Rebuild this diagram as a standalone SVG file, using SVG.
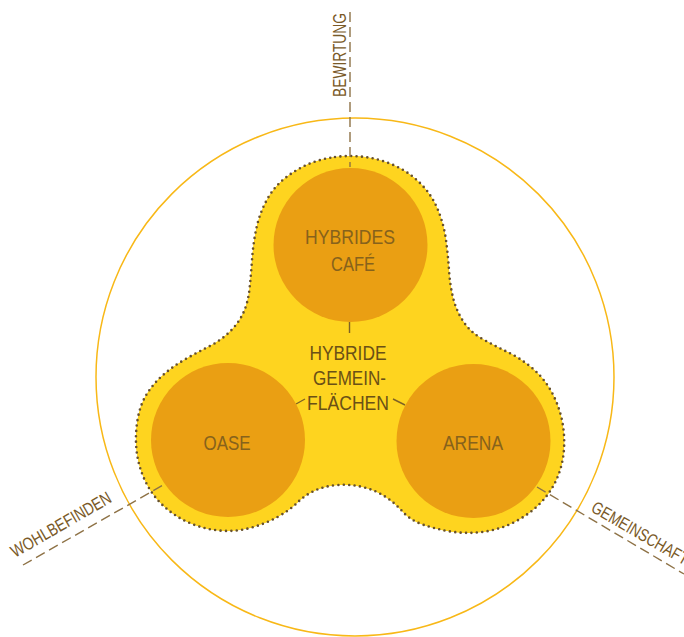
<svg xmlns="http://www.w3.org/2000/svg" width="684" height="637" viewBox="0 0 684 637">
  <style>
    .ring { fill: none; stroke: #F8B817; stroke-width: 1.5; }
    .blob { fill: #FED41F; }
    .blob-edge { fill: none; stroke: #66502E; stroke-width: 2.6; stroke-linecap: round; stroke-dasharray: 0 5.4; }
    .node { fill: #EA9F13; }
    .conn { fill: none; stroke: #8E7246; stroke-width: 1.4; stroke-dasharray: 10 5; }
    .stub { fill: none; stroke: #7E6226; stroke-width: 1.4; }
    .node-text { font-family: "Liberation Sans Narrow", "Liberation Sans", Arial, sans-serif; font-size: 21px; fill: #86621C; text-anchor: middle; }
    .center-text { font-family: "Liberation Sans Narrow", "Liberation Sans", Arial, sans-serif; font-size: 21px; fill: #6A5016; text-anchor: middle; }
    .outer-text { font-family: "Liberation Sans Narrow", "Liberation Sans", Arial, sans-serif; font-size: 17.5px; fill: #7A5A28; }
  </style>

  <g id="ring">
    <circle class="ring" cx="355" cy="377" r="259"/>
  </g>

  <g id="hybrid-area">
    <path id="blob-shape" class="blob" d="M335,157 Q350,155 365,157 Q380,159 394.5,165.5 Q409,172 420.5,183.5 Q432,195 438,210 Q444,225 446,240 Q448,255 449,270 Q450,285 453,297.5 Q456,310 463,321 Q470,332 482.5,339 Q495,346 507.5,352 Q520,358 531.5,367.5 Q543,377 550.5,390 Q558,403 561.5,418 Q565,433 564,449 Q563,465 556.5,479.5 Q550,494 538.5,505 Q527,516 512.5,523 Q498,530 482,532 Q466,534 450.5,531.5 Q435,529 422.5,524.5 Q410,520 402.5,511.5 Q395,503 385,496.5 Q375,490 362.5,487 Q350,484 337.5,485 Q325,486 315,490.5 Q305,495 297.5,502.5 Q290,510 277.5,517 Q265,524 250,528 Q235,532 219,530.5 Q203,529 188.5,522.5 Q174,516 162.5,505 Q151,494 144.5,479.5 Q138,465 136.5,450 Q135,435 137.5,420 Q140,405 146.5,394.5 Q153,384 162.5,375.5 Q172,367 184,360 Q196,353 208,347 Q220,341 229,332.5 Q238,324 243,313.5 Q248,303 249.5,289 Q251,275 252,260 Q253,245 256,230 Q259,215 266,201.5 Q273,188 284,179 Q295,170 307.5,164.5 Q320,159 335,157 Z"/>
    <use href="#blob-shape" class="blob-edge"/>
  </g>

  <g id="connectors">
    <line class="conn" x1="350" y1="12" x2="350" y2="167"/>
    <line class="conn" x1="23" y1="565" x2="165" y2="484"/>
    <line class="conn" x1="537" y1="487" x2="684" y2="574"/>
    <line class="stub" x1="349.5" y1="322" x2="349.5" y2="333"/>
    <line class="stub" x1="296" y1="404" x2="305" y2="399"/>
    <line class="stub" x1="393" y1="399" x2="405" y2="405"/>
  </g>

  <g id="node-cafe">
    <circle class="node" cx="350.5" cy="245" r="77"/>
    <text class="node-text" x="350" y="244" textLength="90" lengthAdjust="spacingAndGlyphs">HYBRIDES</text>
    <text class="node-text" x="353" y="271" textLength="44" lengthAdjust="spacingAndGlyphs">CAFÉ</text>
  </g>

  <g id="node-oase">
    <circle class="node" cx="228" cy="440" r="77"/>
    <text class="node-text" x="227" y="450" textLength="47" lengthAdjust="spacingAndGlyphs">OASE</text>
  </g>

  <g id="node-arena">
    <circle class="node" cx="473.5" cy="441" r="77"/>
    <text class="node-text" x="473" y="450" textLength="60" lengthAdjust="spacingAndGlyphs">ARENA</text>
  </g>

  <g id="node-center">
    <text class="center-text" x="348" y="360" textLength="77" lengthAdjust="spacingAndGlyphs">HYBRIDE</text>
    <text class="center-text" x="349.5" y="385" textLength="73" lengthAdjust="spacingAndGlyphs">GEMEIN-</text>
    <text class="center-text" x="348" y="409.5" textLength="82" lengthAdjust="spacingAndGlyphs">FLÄCHEN</text>
  </g>

  <g id="outer-labels">
    <text class="outer-text" transform="translate(345.5,97) rotate(-90)" textLength="84" lengthAdjust="spacingAndGlyphs">BEWIRTUNG</text>
    <text class="outer-text" transform="translate(15,558) rotate(-30)" textLength="113" lengthAdjust="spacingAndGlyphs">WOHLBEFINDEN</text>
    <text class="outer-text" transform="translate(590,511) rotate(30)" textLength="109" lengthAdjust="spacingAndGlyphs">GEMEINSCHAFT</text>
  </g>
</svg>
